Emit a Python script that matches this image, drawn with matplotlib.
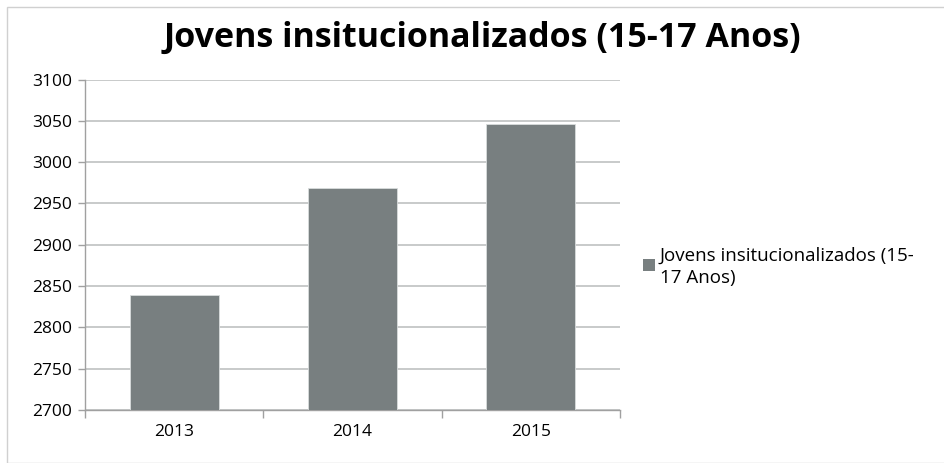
import matplotlib
matplotlib.use("Agg")
import matplotlib.pyplot as plt
from matplotlib.patches import Rectangle
from matplotlib.ticker import FixedLocator

years = ["2013", "2014", "2015"]
values = [2839, 2969, 3046]
series_name = "Jovens insitucionalizados (15-17 Anos)"
title = "Jovens insitucionalizados (15-17 Anos)"
yticks = [2700, 2750, 2800, 2850, 2900, 2950, 3000, 3050, 3100]

plt.rcParams['font.family'] = ['Open Sans', 'DejaVu Sans']

fig = plt.figure(figsize=(9.45, 4.63), dpi=100)
fig.patches.append(Rectangle((7/945, 0.0), 1 - 7/945, 1 - 7/463, transform=fig.transFigure,
                             fill=False, edgecolor="#d0d0d0", linewidth=1))
ax = fig.add_axes([85/945, 1 - 410/463, (620 - 85)/945, (410 - 79.5)/463])

bar_color = "#787f80"
x = list(range(len(years)))
ax.bar(x, [v - 2700 for v in values], bottom=2700, width=0.5, color=bar_color,
       edgecolor="#d8dcdc", linewidth=0.6, zorder=3, label=series_name)

ax.set_xlim(-0.5, len(years) - 0.5)
ax.set_ylim(2700, 3100)
ax.set_yticks(yticks)
ax.set_yticklabels([str(t) for t in yticks], fontsize=12.5)
ax.set_xticks(x)
ax.set_xticklabels(years, fontsize=12.5)
ax.xaxis.set_minor_locator(FixedLocator([-0.5, 0.5, 1.5, 2.5]))
ax.tick_params(axis='x', which='major', length=0, pad=10)
ax.tick_params(axis='x', which='minor', length=6, color="#a0a0a0", width=1)
ax.tick_params(axis='y', length=5, color="#a0a0a0", width=1, pad=4)

ax.grid(axis='y', color="#c4c6c6", linewidth=1.3, zorder=0)
for s in ['top', 'right']:
    ax.spines[s].set_visible(False)
for s in ['left', 'bottom']:
    ax.spines[s].set_color("#a0a0a0")
    ax.spines[s].set_linewidth(1)

fig.text(0.5 + 10/945, 1 - 38/463, title, ha='center', va='center', fontsize=24.5, fontweight='bold')

# legend
fig.patches.append(Rectangle((643/945, 1 - 271/463), 12/945, 12/463, transform=fig.transFigure,
                             facecolor=bar_color, edgecolor="none"))
fig.text(660/945, 1 - 267/463, "Jovens insitucionalizados (15-\n17 Anos)", ha='left', va='center',
         fontsize=13.5, linespacing=1.3)

fig.savefig("out.png", dpi=100)
